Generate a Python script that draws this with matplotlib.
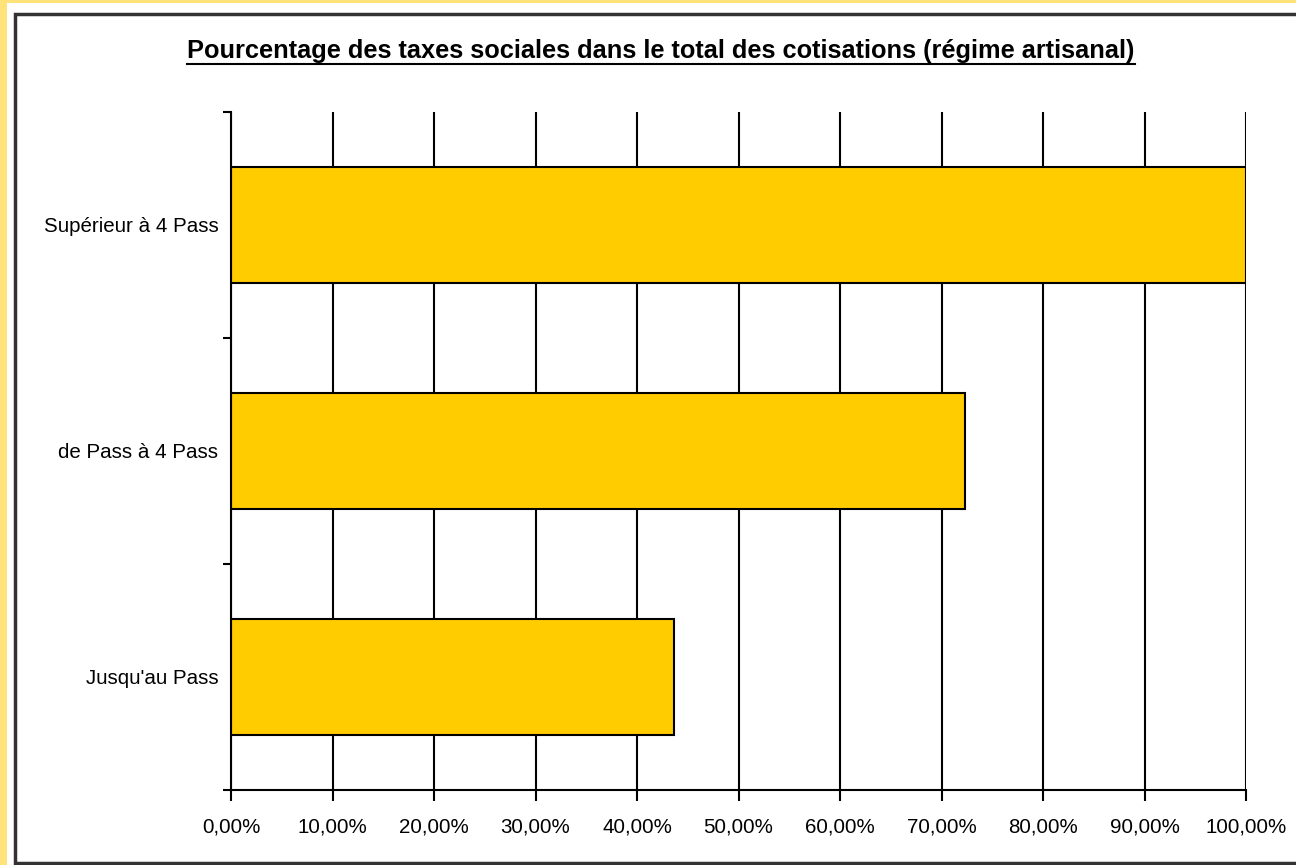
import numpy as np
import matplotlib
matplotlib.use('Agg')
import matplotlib.pyplot as plt
from matplotlib.patches import Rectangle
from matplotlib.lines import Line2D
from matplotlib.ticker import FuncFormatter

# données
categories = ["Jusqu'au Pass", "de Pass à 4 Pass", "Supérieur à 4 Pass"]
pourcentages = [43.6, 72.3, 100.0]
titre = "Pourcentage des taxes sociales dans le total des cotisations (régime artisanal)"

plt.rcParams['font.family'] = ['Liberation Sans', 'DejaVu Sans']

fig = plt.figure(figsize=(12.96, 8.65), dpi=100)
fig.patch.set_facecolor('#FFE27A')

# fond blanc + cadre noir
W, H = 1296.0, 865.0
fond = Rectangle((7 / W, 0), 1, 1 - 3 / H, transform=fig.transFigure,
                 facecolor='white', edgecolor='none', zorder=-2)
fig.patches.append(fond)
cadre = Rectangle((15 / W, 1 - 863 / H), (1310 - 15) / W, (863 - 14) / H,
                  transform=fig.transFigure, facecolor='white', edgecolor='#333333',
                  linewidth=2.5, zorder=-1)
fig.patches.append(cadre)

ax = fig.add_axes([231 / W, 1 - 790 / H, (1246 - 231) / W, (790 - 112) / H])
ax.set_facecolor('none')

y = np.arange(len(categories))
ax.barh(y, pourcentages, height=0.51, color='#FFCC00', edgecolor='black',
        linewidth=1.5, zorder=3)

ax.set_xlim(0, 100)
ax.set_ylim(-0.5, len(categories) - 0.5)
ax.set_xticks(np.arange(0, 101, 10))
ax.xaxis.set_major_formatter(FuncFormatter(lambda v, p: ('%.2f' % v).replace('.', ',') + '%'))
ax.set_yticks(y)
ax.set_yticklabels(categories)
ax.set_yticks(np.arange(-0.5, len(categories), 1), minor=True)

ax.tick_params(axis='y', which='major', length=0, pad=9, labelsize=14.8)
ax.tick_params(axis='y', which='minor', length=6, width=1.5, direction='out')
ax.tick_params(axis='x', length=8, width=1.5, direction='out', pad=12, labelsize=14.8)

ax.grid(axis='x', color='black', linewidth=1.5, zorder=1)
ax.set_axisbelow(True)
for s in ['top', 'right']:
    ax.spines[s].set_visible(False)
for s in ['left', 'bottom']:
    ax.spines[s].set_linewidth(1.5)
    ax.spines[s].set_zorder(4)

t = fig.text(661 / W, 1 - 51 / H, titre, ha='center', va='center',
             fontsize=18.3, fontweight='bold')

# soulignement du titre
fig.canvas.draw()
bb = t.get_window_extent().transformed(fig.transFigure.inverted())
fig.lines.append(Line2D([bb.x0, bb.x1], [bb.y0 - 0.001, bb.y0 - 0.001],
                        transform=fig.transFigure, color='black', linewidth=1.5))

fig.savefig('out.png', dpi=100, facecolor=fig.get_facecolor())
